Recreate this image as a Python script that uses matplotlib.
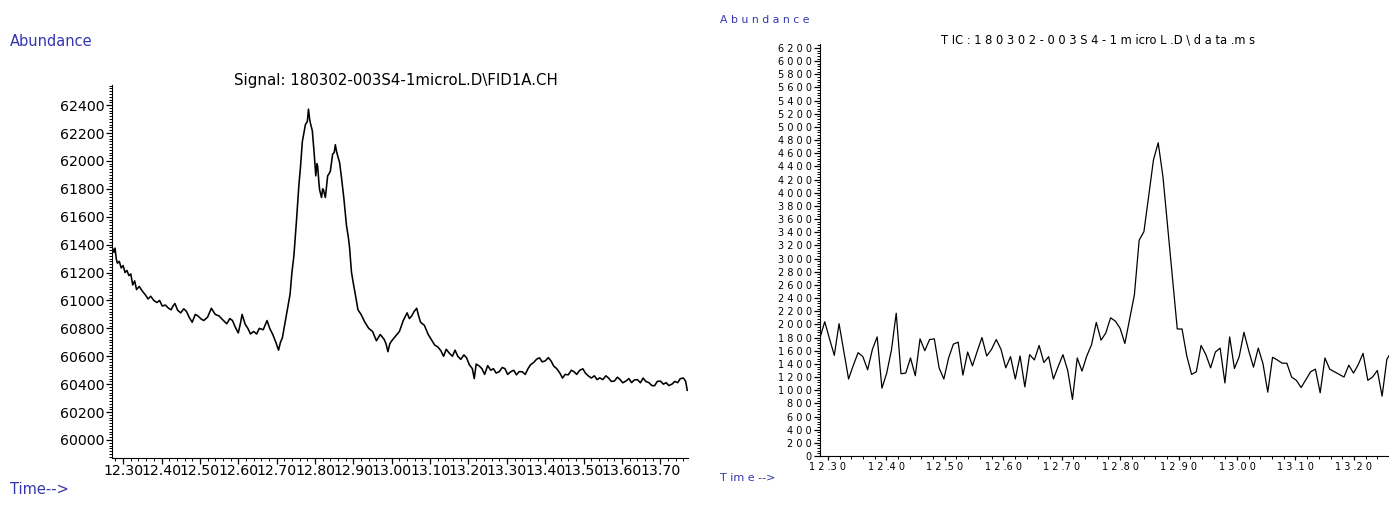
import numpy as np
import matplotlib
matplotlib.use("Agg")
import matplotlib.pyplot as plt
from matplotlib.ticker import MultipleLocator, FuncFormatter

# ---- FID signal (left panel) ----
fid_time = [
    12.270, 12.273, 12.276, 12.279, 12.282, 12.285, 12.290, 12.295, 12.300, 12.305,
    12.310, 12.315, 12.320, 12.325, 12.330, 12.335, 12.342, 12.350, 12.358, 12.365,
    12.372, 12.380, 12.388, 12.395, 12.402, 12.410, 12.418, 12.425, 12.430, 12.435,
    12.442, 12.450, 12.458, 12.465, 12.472, 12.480, 12.488, 12.495, 12.502, 12.510,
    12.520, 12.530, 12.540, 12.550, 12.560, 12.570, 12.578, 12.585, 12.592, 12.600,
    12.606, 12.610, 12.618, 12.625, 12.632, 12.640, 12.648, 12.655, 12.665, 12.675,
    12.682, 12.690, 12.698, 12.705, 12.710, 12.715, 12.720, 12.725, 12.730, 12.735,
    12.740, 12.745, 12.752, 12.758, 12.762, 12.767, 12.771, 12.775, 12.780, 12.783,
    12.786, 12.788, 12.793, 12.798, 12.802, 12.805, 12.807, 12.810, 12.812, 12.817,
    12.820, 12.822, 12.825, 12.827, 12.833, 12.837, 12.840, 12.846, 12.850, 12.853,
    12.856, 12.860, 12.864, 12.868, 12.875, 12.882, 12.887, 12.890, 12.895, 12.900,
    12.905, 12.912, 12.920, 12.930, 12.940, 12.950, 12.960, 12.970, 12.980, 12.985,
    12.990, 12.995, 13.000, 13.010, 13.020, 13.030, 13.040, 13.046, 13.052, 13.058,
    13.065, 13.070, 13.075, 13.085, 13.095, 13.105, 13.112, 13.120, 13.128, 13.135,
    13.142, 13.150, 13.158, 13.165, 13.172, 13.180, 13.188, 13.195, 13.202, 13.210,
    13.215, 13.220, 13.228, 13.235, 13.242, 13.250, 13.258, 13.265, 13.272, 13.280,
    13.288, 13.295, 13.302, 13.310, 13.318, 13.325, 13.332, 13.340, 13.348, 13.355,
    13.362, 13.370, 13.378, 13.385, 13.392, 13.400, 13.408, 13.415, 13.422, 13.430,
    13.438, 13.445, 13.452, 13.460, 13.468, 13.475, 13.482, 13.490, 13.498, 13.505,
    13.512, 13.520, 13.528, 13.535, 13.542, 13.550, 13.558, 13.565, 13.572, 13.580,
    13.588, 13.595, 13.602, 13.610, 13.618, 13.625, 13.632, 13.640, 13.648, 13.655,
    13.662, 13.670, 13.678, 13.685, 13.692, 13.700, 13.708, 13.715, 13.722, 13.730,
    13.738, 13.745, 13.752, 13.760, 13.766, 13.770,
]
fid_signal = [
    61330, 61370, 61345, 61375, 61300, 61267, 61280, 61233, 61250, 61200,
    61215, 61178, 61190, 61111, 61140, 61078, 61100, 61067, 61040, 61011,
    61030, 61000, 60985, 61000, 60960, 60967, 60945, 60933, 60960, 60978,
    60930, 60911, 60940, 60922, 60880, 60844, 60900, 60889, 60870, 60856,
    60880, 60944, 60900, 60889, 60860, 60833, 60870, 60856, 60810, 60767,
    60840, 60900, 60830, 60800, 60760, 60778, 60760, 60800, 60790, 60856,
    60800, 60756, 60700, 60644, 60700, 60733, 60810, 60889, 60960, 61044,
    61204, 61320, 61582, 61827, 61949, 62138, 62200, 62260, 62282, 62371,
    62300, 62271, 62216, 62049, 61893, 61980, 61960, 61850, 61793, 61738,
    61800, 61793, 61760, 61738, 61893, 61910, 61927, 62049, 62060, 62116,
    62070, 62027, 61990, 61904, 61738, 61538, 61450, 61382, 61204, 61120,
    61044, 60933, 60900, 60844, 60800, 60778, 60711, 60756, 60722, 60690,
    60633, 60690, 60711, 60744, 60778, 60856, 60911, 60870, 60889, 60920,
    60944, 60890, 60844, 60822, 60756, 60711, 60680, 60667, 60640, 60600,
    60650, 60622, 60600, 60644, 60600, 60578, 60610, 60589, 60540, 60511,
    60440, 60544, 60530, 60511, 60470, 60533, 60500, 60511, 60480, 60489,
    60520, 60511, 60470, 60489, 60500, 60467, 60490, 60489, 60470, 60511,
    60540, 60556, 60580, 60589, 60560, 60567, 60590, 60567, 60530, 60511,
    60480, 60444, 60470, 60467, 60500, 60489, 60470, 60500, 60510, 60478,
    60460, 60444, 60460, 60433, 60445, 60433, 60460, 60444, 60420, 60422,
    60450, 60433, 60410, 60422, 60440, 60411, 60430, 60433, 60410, 60444,
    60420, 60411, 60390, 60389, 60420, 60422, 60400, 60411, 60390, 60400,
    60420, 60411, 60440, 60444, 60420, 60356,
]

# ---- TIC (right panel), one value per MS scan ----
scan_start = 12.2865   # min, first scan
scan_step = 0.00815    # min between scans
tic_abundance = [
    1800, 2040, 1780, 1530, 2010, 1590, 1170, 1380, 1570, 1510,
    1310, 1620, 1810, 1030, 1260, 1610, 2170, 1250, 1260, 1490,
    1220, 1780, 1600, 1770, 1780, 1340, 1170, 1490, 1700, 1730,
    1230, 1580, 1370, 1590, 1800, 1520, 1620, 1770, 1620, 1340,
    1510, 1170, 1520, 1050, 1540, 1460, 1680, 1420, 1510, 1170,
    1360, 1540, 1300, 860, 1490, 1290, 1520, 1690, 2030, 1760,
    1870, 2100, 2050, 1940, 1710, 2080, 2450, 3280, 3410, 3950,
    4500, 4760, 4240, 3470, 2700, 1930, 1930, 1520, 1240, 1280,
    1680, 1540, 1340, 1580, 1640, 1110, 1810, 1330, 1510, 1880,
    1600, 1350, 1640, 1400, 970, 1500, 1460, 1410, 1410, 1200,
    1150, 1040, 1160, 1280, 1320, 960, 1490, 1320, 1280, 1240,
    1200, 1380, 1260, 1390, 1560, 1150, 1200, 1300, 910, 1470,
    1590,
]
tic_time = scan_start + scan_step * np.arange(len(tic_abundance))

fid_title = "Signal: 180302-003S4-1microL.D\\FID1A.CH"
tic_title = "T IC : 1 8 0 3 0 2 - 0 0 3 S 4 - 1 m icro L .D \\ d a ta .m s"
label_blue = "#3535b0"

plt.rcParams["font.family"] = ["DejaVu Sans"]

W, H = 1389, 523
fig = plt.figure(figsize=(W / 100, H / 100), dpi=100)


def px(x0, y0, x1, y1):
    # pixel box (top-left origin) -> figure rect
    return [x0 / W, 1 - y1 / H, (x1 - x0) / W, (y1 - y0) / H]


# ---------------- left: FID chromatogram ----------------
ax1 = fig.add_axes(px(112, 85, 688, 458))
ax1.plot(fid_time, fid_signal, color="black", lw=1.15)
ax1.set_xlim(12.271, 13.772)
for side in ("top", "right"):
    ax1.spines[side].set_visible(False)
ax1.set_xticks(np.round(np.arange(12.3, 13.71, 0.1), 2))
ax1.xaxis.set_minor_locator(MultipleLocator(0.02))
ax1.yaxis.set_major_locator(MultipleLocator(200))
ax1.yaxis.set_minor_locator(MultipleLocator(20))
ax1.set_ylim(59871, 62544)
ax1.xaxis.set_major_formatter(FuncFormatter(lambda v, p: f"{v:.2f}"))
ax1.yaxis.set_major_formatter(FuncFormatter(lambda v, p: f"{v:.0f}"))
ax1.tick_params(which="major", length=4.5, width=0.9, labelsize=10.2)
ax1.tick_params(axis="y", which="major", pad=1)
ax1.tick_params(axis="x", which="major", length=4, pad=0.5, labelsize=10.2)
ax1.tick_params(which="minor", length=2.5, width=0.7)

fig.text(396 / W, 1 - 80 / H, fid_title, fontsize=10.8, ha="center", va="center")
fig.text(10 / W, 1 - 41 / H, "Abundance", color=label_blue, fontsize=10.5, va="center")
fig.text(10 / W, 1 - 490 / H, "Time-->", color=label_blue, fontsize=10.5, va="center")

# ---------------- right: TIC ----------------
ax2 = fig.add_axes(px(820, 44, 1389, 456))
ax2.plot(tic_time, tic_abundance, color="black", lw=0.9)
ax2.set_xlim(12.2865, 13.260)
ax2.set_ylim(0, 6261)
for side in ("top", "right"):
    ax2.spines[side].set_visible(False)
ax2.xaxis.set_major_locator(MultipleLocator(0.1))
ax2.xaxis.set_minor_locator(MultipleLocator(0.02))
ax2.yaxis.set_major_locator(MultipleLocator(200))
ax2.yaxis.set_minor_locator(MultipleLocator(40))
ax2.xaxis.set_major_formatter(
    FuncFormatter(lambda v, p: " ".join(f"{v:.2f}").replace(". ", "."))
)
ax2.yaxis.set_major_formatter(FuncFormatter(lambda v, p: " ".join(f"{v:.0f}")))
ax2.tick_params(which="major", length=4, width=0.9, labelsize=7, pad=2)
ax2.tick_params(axis="x", which="major", length=3, pad=1)
ax2.tick_params(which="minor", length=2, width=0.7)

fig.text(1098 / W, 1 - 40 / H, tic_title, fontsize=8.3, ha="center", va="center")
fig.text(720 / W, 1 - 20 / H, "A b u n d a n c e", color=label_blue, fontsize=7.8, va="center")
fig.text(720 / W, 1 - 478 / H, "T im e -->", color=label_blue, fontsize=8, va="center")

fig.savefig("out.png", dpi=100)
